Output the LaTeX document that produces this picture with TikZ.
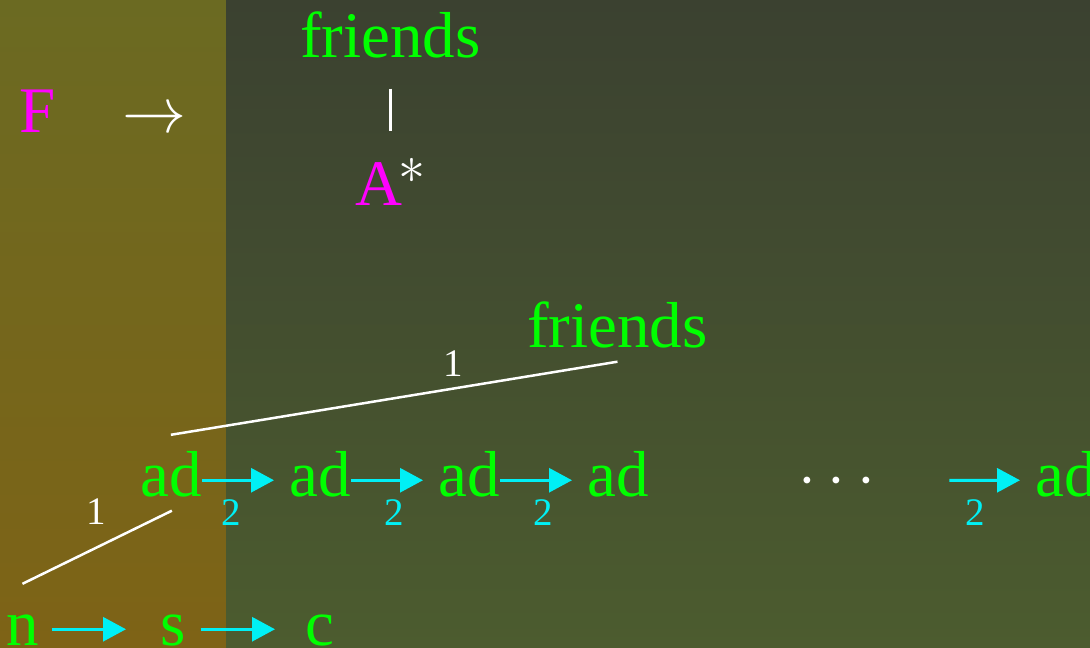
\documentclass[tikz,border=0pt]{standalone}
\usepackage{fontspec}
\setmainfont{Liberation Serif}
\usetikzlibrary{arrows.meta}
\definecolor{lgreen}{RGB}{0,255,0}
\definecolor{lmag}{RGB}{255,0,255}
\definecolor{lcyan}{RGB}{0,240,245}
\definecolor{ltop}{RGB}{107,106,34}
\definecolor{lbot}{RGB}{126,99,22}
\definecolor{rtop}{RGB}{59,65,48}
\definecolor{rbot}{RGB}{76,92,47}
\tikzset{
  big/.style={inner sep=0pt, anchor=base west, font=\fontsize{65}{70}\selectfont, text height=46pt, text depth=14.5pt},
  word/.style={big, text=lgreen},
  sym/.style={big, text=lmag},
  wsym/.style={inner sep=0pt, anchor=base west, font=\fontsize{10}{12}\selectfont, scale=6.4, text height=7.2pt, text depth=2.3pt, text=white},
  lab/.style={inner sep=0pt, font=\fontsize{39}{44}\selectfont},
  wline/.style={draw=white, line width=2.5pt},
  carrow/.style={draw=lcyan, line width=3pt, -{Triangle[length=23pt,width=24pt]}},
}
\begin{document}
\begin{tikzpicture}[x=1pt,y=-1pt]
\useasboundingbox (0,0) rectangle (1090,648);
\shade[top color=ltop, bottom color=lbot] (0,0) rectangle (226,648);
\shade[top color=rtop, bottom color=rbot] (226,0) rectangle (1090,648);
% top rule
\node[sym] (F) at (19,132) {F};
\node[wsym] (arr) at (121,132) {$\rightarrow$};
\node[inner sep=0pt, font=\fontsize{10}{12}\selectfont, scale=5.4, text=white] (star) at (412,171) {$\ast$};
\node[word] (fr1) at (300,57) {friends};
\node[sym] (A) at (355,205) {A};
\draw[wline] ([yshift=-17pt]fr1.south) -- ([yshift=28pt]A.north -| fr1.south);
% lower structure
\node[word] (fr2) at (527,347) {friends};
\node[word] (ad1) at (140,496) {ad};
\node[word] (ad2) at (289,496) {ad};
\node[word] (ad3) at (438,496) {ad};
\node[word] (ad4) at (587,496) {ad};
\node[wsym] (dots) at (797,496) {$\cdotp\mkern0.3mu\cdotp\mkern0.3mu\cdotp$};
\node[word] (ad5) at (1035,496) {ad};
\node[word] (n) at (6,645) {n};
\node[word] (s) at (160,645) {s};
\node[word] (c) at (305,645) {c};
\draw[wline] (fr2.south) -- ([yshift=15pt]ad1.north);
\draw[wline] ([xshift=1pt]ad1.south) -- ([yshift=15pt]n.north);
\node[lab, text=white] (l1a) at (453,364) {1};
\node[lab, text=white] (l1b) at (96,512) {1};
\draw[carrow] (ad1.east) -- ([xshift=-15pt]ad2.west);
\draw[carrow] (ad2.east) -- ([xshift=-15pt]ad3.west);
\draw[carrow] (ad3.east) -- ([xshift=-15pt]ad4.west);
\draw[carrow] ([xshift=73pt]dots.east) -- ([xshift=-15pt]ad5.west);
\node[lab, text=lcyan] (l2a) at (231,513) {2};
\node[lab, text=lcyan] (l2b) at (394,513) {2};
\node[lab, text=lcyan] (l2c) at (543,513) {2};
\node[lab, text=lcyan] (l2d) at (975,513) {2};
\draw[carrow] ([xshift=13pt]n.east) -- ([xshift=-34pt]s.west);
\draw[carrow] ([xshift=15pt]s.east) -- ([xshift=-30pt]c.west);
\end{tikzpicture}
\end{document}
